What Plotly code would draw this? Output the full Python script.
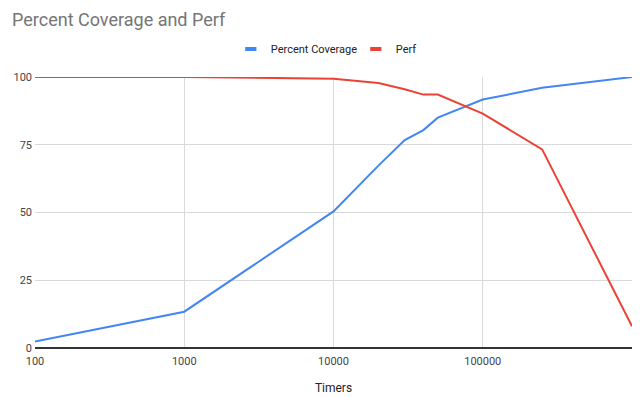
import plotly.graph_objects as go

timers = [100, 1000, 10000, 20000, 30000, 40000, 50000, 100000, 250000, 1000000]
percent_coverage = [2.4, 13.4, 50.4, 67.3, 76.7, 80.4, 85.0, 91.7, 96.0, 100.0]
perf = [100.0, 100.0, 99.4, 97.8, 95.5, 93.5, 93.5, 86.5, 73.3, 8.0]

x_ticks = [100, 1000, 10000, 100000]
y_ticks = [0, 25, 50, 75, 100]

BLUE = "#4285F4"
RED = "#EA4335"
FONT = "Roboto, Arial, sans-serif"

fig = go.Figure()
fig.add_trace(go.Scatter(x=timers, y=percent_coverage, mode="lines", name="Percent Coverage",
                         line=dict(color=BLUE, width=2), showlegend=False))
fig.add_trace(go.Scatter(x=timers, y=perf, mode="lines", name="Perf",
                         line=dict(color=RED, width=2), showlegend=False))
# legend entries (short bar symbols)
fig.add_trace(go.Scatter(x=[None], y=[None], mode="markers", name="Percent Coverage",
                         marker=dict(symbol="line-ew", size=8, line=dict(color=BLUE, width=4))))
fig.add_trace(go.Scatter(x=[None], y=[None], mode="markers", name="Perf",
                         marker=dict(symbol="line-ew", size=8, line=dict(color=RED, width=4))))

fig.update_layout(
    width=640, height=397,
    paper_bgcolor="white", plot_bgcolor="white",
    margin=dict(l=35, r=8, t=77, b=49, autoexpand=False),
    font=dict(family=FONT, size=11, color="#444444"),
    title=dict(text="Percent Coverage and Perf", x=12/640, xanchor="left",
               y=1 - 20/397, yanchor="middle",
               font=dict(family=FONT, size=18, color="#757575")),
    legend=dict(orientation="h", x=0.328, xanchor="left", y=1 + 28/271, yanchor="middle",
                font=dict(family=FONT, size=11, color="#222222"), itemwidth=30,
                entrywidth=80, entrywidthmode="pixels",
                bgcolor="rgba(0,0,0,0)"),
    showlegend=True,
)
fig.update_xaxes(type="log", range=[2, 6], tickvals=x_ticks, ticktext=[str(v) for v in x_ticks],
                 showgrid=True, gridcolor="#d9d9d9", gridwidth=1, zeroline=False,
                 showline=False, ticks="", automargin=False, ticklabelstandoff=5,
                 title=dict(text="Timers", standoff=16, font=dict(family=FONT, size=12, color="#222222")))
fig.update_yaxes(range=[0, 100], tickvals=y_ticks, showgrid=True, gridcolor="#d9d9d9", gridwidth=1,
                 zeroline=True, zerolinecolor="#333333", zerolinewidth=1.5, showline=False, ticks="",
                 ticklabelstandoff=2, automargin=False)

fig.write_html("out.html", config={"displayModeBar": False},
               post_script="document.body.style.margin='0';document.body.style.overflow='hidden';")
